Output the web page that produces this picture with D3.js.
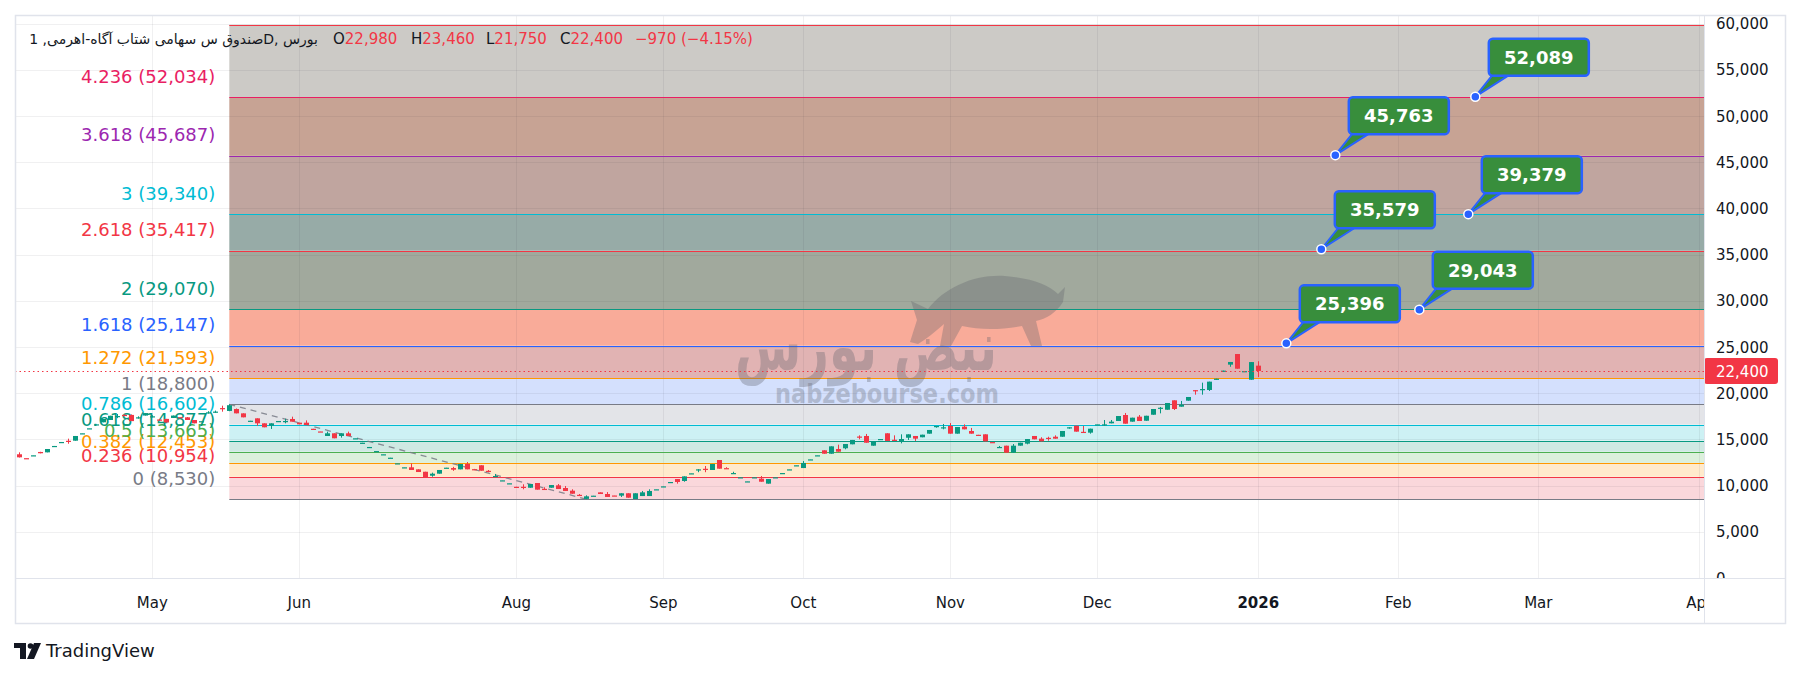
<!DOCTYPE html>
<html><head><meta charset="utf-8">
<script src="https://cdn.jsdelivr.net/npm/d3@7"></script>
<style>html,body{margin:0;padding:0;background:#fff;} svg{display:block;}</style>
</head><body>
<svg id="chart" width="1800" height="677"></svg>
<script>
// ---------------- DATA ----------------
const openP  = [13390,12970,13260,13640,13600,14270,14700,14850,14860,15640,16180,16610,16850,17100,17510,17650,17650,17370,17580,17480,
17150,17220,17320,17410,17390,17100,16950,17910,17980,18390,18080,18290,17820,17000,17280,16740,16480,16970,16970,17210,
16810,16810,16150,15860,15370,15660,15370,15660,15100,14620,14160,13720,13370,13000,12390,11960,11980,11760,11500,11070,
11290,11920,11900,11760,12340,11780,12200,11600,11020,10550,10230,9870,9870,9770,10280,9650,9770,10030,9740,9450,
9000,8560,8890,9270,9090,8930,8910,9170,8550,8870,8870,9580,9900,10370,10710,10500,11310,11740,11820,11690,
12770,11890,11340,10880,10440,10880,10750,10210,10880,11340,11740,12180,11900,12820,13260,13820,13450,13960,14040,14470,
15310,15370,14320,15020,15660,14960,14830,15180,15370,15230,15620,16430,16290,16450,15620,16380,15910,15500,15550,14710,
14160,14320,13560,14320,14540,15370,15080,15170,15290,15290,16290,16480,15820,15730,16610,16610,16740,16990,17640,16920,
17460,17020,17670,18410,18210,19230,18540,19190,20330,20430,20350,21550,22420,23090,24240,22370,21460,22980];
const highP  = [13600,12970,13280,13660,13960,14290,14720,15080,15370,15660,16200,16630,17210,17560,17750,17700,17700,17500,17850,17620,
17200,17220,17580,17410,17420,17100,16970,18050,18120,18650,18800,18350,17820,17020,17280,16740,16740,16990,17240,17460,
16810,17060,16150,15860,15840,15660,15660,15840,15120,14640,14180,13740,13390,13020,12410,11980,12410,11760,11500,11400,
11690,11940,12030,12340,12550,11780,12200,11690,11260,10570,10250,9870,10140,10170,10280,9820,10060,10170,9960,9600,
9090,8950,8910,9270,9300,8930,9170,9170,9170,9420,9600,9600,9920,10390,10710,11000,11330,11780,12120,12340,
12770,11990,11500,10900,10460,10900,11040,10710,10900,11360,11760,12200,12660,12840,13280,13820,14250,14430,14500,14940,
15440,15590,14750,15040,15660,15440,15550,15550,15370,15510,16020,16450,16670,16770,16340,16630,16240,15500,15550,14710,
14290,14320,14500,14640,15040,15370,15230,15290,15440,15910,16310,16480,16450,16160,16630,17100,17100,17530,17860,17350,
17640,17560,18290,18510,18940,19230,19160,19590,20330,21140,21250,21570,22440,23380,24240,22390,23370,23460];
const lowP   = [13040,12950,13260,13490,13600,14270,14700,14530,14860,15640,16180,16610,16850,17100,17300,17500,16980,17250,17580,17380,
17100,16830,17320,17390,17100,16740,16950,17800,17880,18000,18050,17820,17390,17000,16480,16310,16130,16970,16740,16920,
16630,16560,16130,15840,15370,15120,15190,15370,15100,14620,14160,13720,13370,13000,12390,11960,11690,11470,10930,10960,
11290,11920,11600,11760,11760,11760,11610,11440,10930,10550,10230,9850,9600,9770,9560,9560,9770,9630,9420,9120,
8870,8530,8890,9090,8770,8910,8770,8690,8550,8870,8870,9580,9900,10370,10210,10420,11310,11450,11450,11690,
11830,11870,11340,10880,10440,10880,10420,10210,10880,11340,11740,12180,11900,12820,13260,13450,13450,13670,13930,14470,
15010,14640,14320,15020,14830,14830,14570,14940,14830,15230,15620,16270,16090,15620,15620,16090,15620,15480,14790,14690,
14070,13560,13560,14320,14470,15010,14790,14860,15080,15290,16160,15840,15800,15620,16610,16480,16740,16990,16700,16920,
16990,17020,17670,17820,18210,18180,18540,19190,19840,19840,20240,21460,22330,22860,22650,22370,21460,21750];
const closeP = [13060,12950,13280,13500,13960,14290,14720,14820,15370,15660,16200,16630,17210,17560,17530,17520,16980,17390,17850,17500,
17100,16830,17580,17390,17100,16740,16970,17930,18010,18360,18700,17820,17390,17020,16740,16310,16740,16990,16990,16920,
16630,16560,16130,15840,15660,15120,15660,15370,15120,14640,14180,13740,13390,13020,12410,11980,11690,11470,10930,11290,
11690,11940,11720,12340,11760,11760,11610,11580,11040,10570,10250,9850,9850,10170,9560,9630,10060,9630,9420,9120,
8980,8840,8910,9090,8770,8910,9170,8690,9170,9270,9420,9600,9920,10390,10390,11000,11330,11760,11790,12340,
11830,11870,11360,10900,10460,10900,10420,10710,10900,11360,11760,12200,12450,12840,13280,13450,14250,13670,14500,14940,
15290,14640,14750,15040,14830,14940,15040,15550,15080,15510,16020,16450,16310,15620,16340,16090,15620,15480,14790,14690,
14180,13560,14320,14640,15040,15010,14790,15150,15080,15910,16310,15840,15800,16160,16630,16630,16920,17530,16700,17350,
16990,17560,18290,18430,18940,18290,18760,19590,20310,20450,21250,21570,22440,23380,22650,22390,23370,22400];

const monthLabels = ["May","Jun","Aug","Sep","Oct","Nov","Dec","2026","Feb","Mar","Apr"];
const monthBars   = [19,40,71,92,112,133,154,177,197,217,240];
const yTickValues = [0,5000,10000,15000,20000,25000,30000,35000,40000,45000,50000,55000,60000];
const yTickLabels = ["0","5,000","10,000","15,000","20,000","25,000","30,000","35,000","40,000","45,000","50,000","55,000","60,000"];

const fibRatios = ["0","0.236","0.382","0.5","0.618","0.786","1","1.272","1.618","2","2.618","3","3.618","4.236","5"];
const fibPrices = [8530,10954,12453,13665,14877,16602,18800,21593,25147,29070,35417,39340,45687,52034,59880];
const fibLineColors = ["#787b86","#f23645","#ff9800","#4caf50","#089981","#00bcd4","#787b86","#ff9800","#2962ff","#089981","#f23645","#00bcd4","#9c27b0","#e91e63","#f23645"];
const fibFillColors = ["#fad7db","#ffeacc","#dcf0dc","#cfe9e3","#cdf1f4","#e3e4e8","#d4e0fd","#e1b3b3","#f9ab99","#a1a99d","#97aba7","#c0a59f","#c7a394","#cccac6"];
const fibStartBar = 30, fibEndBar = 81;

const calloutValues = [25396,29043,35579,39379,45763,52089];
const calloutBars   = [181,200,186,207,188,208];

const symbolTitle = "صندوق س سهامی شتاب آگاه-اهرمی, 1D, بورس";

// ---------------- LAYOUT ----------------
const plot = {left:15, right:1704, top:15, bottom:578};
const frame = {right:1785, bottom:623};
const svg = d3.select('#chart');
const FONT = "DejaVu Sans, sans-serif";
const UP = "#089981", DOWN = "#f23645";

const x = d3.scaleLinear().domain([-0.614, 240.67]).range([plot.left, plot.right]);
const y = d3.scaleLinear().domain([0, 60931]).range([plot.bottom, plot.top]);
const step = x(1) - x(0);
const fmt = d3.format(",");

svg.append('rect').attr('width',1800).attr('height',677).attr('fill','#ffffff');

const defs = svg.append('defs');
defs.append('clipPath').attr('id','plotClip').append('rect')
  .attr('x',plot.left).attr('y',plot.top).attr('width',plot.right-plot.left).attr('height',plot.bottom-plot.top);
defs.append('clipPath').attr('id','yAxisClip').append('rect')
  .attr('x',plot.right).attr('y',plot.top).attr('width',frame.right-plot.right).attr('height',plot.bottom-plot.top);
defs.append('clipPath').attr('id','xAxisClip').append('rect')
  .attr('x',plot.left).attr('y',plot.bottom).attr('width',plot.right-plot.left).attr('height',frame.bottom-plot.bottom);

const g = svg.append('g').attr('clip-path','url(#plotClip)');

// fib fills
const fx0 = x(fibStartBar);
for (let k=1;k<fibPrices.length;k++){
  g.append('rect').attr('x',fx0).attr('y',y(fibPrices[k]))
   .attr('width',plot.right-fx0).attr('height',y(fibPrices[k-1])-y(fibPrices[k]))
   .attr('fill',fibFillColors[k-1]);
}

// grid
g.selectAll('line.hg').data(yTickValues).enter().append('line')
  .attr('x1',plot.left).attr('x2',plot.right)
  .attr('y1',d=>Math.round(y(d))+0.5).attr('y2',d=>Math.round(y(d))+0.5)
  .attr('stroke','rgba(42,46,57,0.07)').attr('stroke-width',1);
g.selectAll('line.vg').data(monthBars).enter().append('line')
  .attr('y1',plot.top).attr('y2',plot.bottom)
  .attr('x1',d=>Math.round(x(d))+0.5).attr('x2',d=>Math.round(x(d))+0.5)
  .attr('stroke','rgba(42,46,57,0.07)').attr('stroke-width',1);

// fib level lines + labels (top level's label lies above the pane and is not shown)
fibPrices.forEach((p,k)=>{
  const yy = Math.round(y(p))+0.5;
  g.append('line').attr('x1',fx0).attr('x2',plot.right).attr('y1',yy).attr('y2',yy)
    .attr('stroke',fibLineColors[k]).attr('stroke-width',1.2);
  if (y(p) - 28 > plot.top) {
    g.append('text').attr('x',fx0-14).attr('y',y(p)-14.5).attr('text-anchor','end')
      .attr('font-family',FONT).attr('font-size',18).attr('fill',fibLineColors[k])
      .text(`${fibRatios[k]} (${fmt(p)})`);
  }
});

// watermark
const wm = g.append('g');
wm.append('path')
  .attr('d','M910,342 L917,320 L911,301 L928,309 C945,287 975,274 1005,276 C1030,278 1048,284 1058,294 L1065,287 L1063,302 C1056,313 1046,319 1036,321 L1042,346 L1031,346 L1022,326 C1000,330 980,330 962,326 L951,346 L940,346 L944,324 C935,332 926,339 918,344 Z')
  .attr('fill','#5d606b').attr('opacity',0.32);
wm.append('text').attr('x',866).attr('y',370).attr('text-anchor','middle')
  .attr('font-family',FONT).attr('font-weight','bold').attr('font-size',68)
  .attr('fill','#5d606b').attr('opacity',0.32)
  .attr('textLength',262).attr('lengthAdjust','spacingAndGlyphs')
  .text('نبض بورس');
wm.append('text').attr('x',887).attr('y',403).attr('text-anchor','middle')
  .attr('font-family',FONT).attr('font-weight','bold').attr('font-size',27)
  .attr('fill','#5d606b').attr('opacity',0.3)
  .attr('textLength',224).attr('lengthAdjust','spacingAndGlyphs')
  .text('nabzebourse.com');

// trend (dashed) line of the fib tool
g.append('line')
  .attr('x1',x(fibStartBar)).attr('y1',y(highP[fibStartBar]))
  .attr('x2',x(fibEndBar)).attr('y2',y(lowP[fibEndBar]))
  .attr('stroke','#787b86').attr('stroke-width',1.3).attr('stroke-dasharray','6,5').attr('opacity',0.85);

// candles
const bodyW = Math.round(step*0.72);
const candles = g.append('g');
openP.forEach((o,i)=>{
  const c = closeP[i], h = highP[i], l = lowP[i];
  const col = c >= o ? UP : DOWN;
  const cx = Math.round(x(i));
  candles.append('line').attr('x1',cx+0.5).attr('x2',cx+0.5)
    .attr('y1',y(h)).attr('y2',y(l)).attr('stroke',col).attr('stroke-width',1);
  const top = y(Math.max(o,c)), bot = y(Math.min(o,c));
  candles.append('rect').attr('x',cx+0.5-bodyW/2).attr('y',top)
    .attr('width',bodyW).attr('height',Math.max(1.2,bot-top)).attr('fill',col);
});

// last price dotted line
const lastIdx = closeP.length-1;
const lastClose = closeP[lastIdx];
g.append('line').attr('x1',plot.left).attr('x2',plot.right)
  .attr('y1',Math.round(y(lastClose))+0.5).attr('y2',Math.round(y(lastClose))+0.5)
  .attr('stroke',DOWN).attr('stroke-width',1).attr('stroke-dasharray','1.5,3');

// callouts
calloutValues.forEach((v,k)=>{
  const cx = x(calloutBars[k]), cy = y(v);
  const bw = 100, bh = 37, bx = cx + 13.5, by = cy - 21 - bh;
  g.append('path').attr('d',`M${cx},${cy} L${bx+4},${by+bh-1} L${bx+21},${by+bh-1} Z`)
    .attr('fill','#388e3c').attr('stroke','#2962ff').attr('stroke-width',2).attr('stroke-linejoin','round');
  g.append('rect').attr('x',bx).attr('y',by).attr('width',bw).attr('height',bh).attr('rx',4)
    .attr('fill','#388e3c').attr('stroke','#2962ff').attr('stroke-width',2.5);
  g.append('text').attr('x',bx+bw/2).attr('y',by+bh/2+6.5).attr('text-anchor','middle')
    .attr('font-family',FONT).attr('font-weight','bold').attr('font-size',18).attr('fill','#ffffff')
    .text(fmt(v));
  g.append('circle').attr('cx',cx).attr('cy',cy).attr('r',4.5)
    .attr('fill','#2962ff').attr('stroke','#ffffff').attr('stroke-width',1.5);
});

// y axis
const ya = svg.append('g').attr('clip-path','url(#yAxisClip)');
yTickValues.forEach((v,k)=>{
  ya.append('text').attr('x',1716).attr('y',y(v)+5.5)
    .attr('font-family',FONT).attr('font-size',15).attr('fill','#131722').text(yTickLabels[k]);
});
ya.append('rect').attr('x',plot.right).attr('y',y(lastClose)-13).attr('width',74).attr('height',26).attr('rx',3)
  .attr('fill',DOWN);
ya.append('text').attr('x',1716).attr('y',y(lastClose)+5.5)
  .attr('font-family',FONT).attr('font-size',15).attr('fill','#ffffff').text(fmt(lastClose));

// x axis
const xa = svg.append('g').attr('clip-path','url(#xAxisClip)');
monthBars.forEach((b,k)=>{
  xa.append('text').attr('x',x(b)).attr('y',608).attr('text-anchor','middle')
    .attr('font-family',FONT).attr('font-size',15)
    .attr('font-weight', monthLabels[k]==='2026' ? 'bold' : 'normal')
    .attr('fill','#131722').text(monthLabels[k]);
});

// frame
svg.append('rect').attr('x',plot.left+0.5).attr('y',plot.top+0.5)
  .attr('width',frame.right-plot.left).attr('height',frame.bottom-plot.top)
  .attr('fill','none').attr('stroke','#e0e3eb').attr('stroke-width',1.5);
svg.append('line').attr('x1',plot.left).attr('x2',frame.right).attr('y1',plot.bottom+0.5).attr('y2',plot.bottom+0.5)
  .attr('stroke','#e0e3eb').attr('stroke-width',1);
svg.append('line').attr('x1',plot.right+0.5).attr('x2',plot.right+0.5).attr('y1',plot.top).attr('y2',frame.bottom)
  .attr('stroke','#e0e3eb').attr('stroke-width',1);

// legend
const leg = svg.append('g').attr('font-family',FONT).attr('font-size',15);
leg.append('text').attr('x',318).attr('y',44).attr('text-anchor','end').attr('font-size',14)
  .attr('fill','#131722').text(symbolTitle);
const lastO = openP[lastIdx], lastH = highP[lastIdx], lastL = lowP[lastIdx];
const chg = lastClose - closeP[lastIdx-1];
const pct = chg/closeP[lastIdx-1]*100;
const legItems = [["O",lastO,333],["H",lastH,411],["L",lastL,486],["C",lastClose,560]];
const vcol = chg < 0 ? DOWN : UP;
legItems.forEach(([k,v,lx])=>{
  const t = leg.append('text').attr('x',lx).attr('y',44);
  t.append('tspan').attr('fill','#131722').text(k);
  t.append('tspan').attr('fill',vcol).text(fmt(v));
});
leg.append('text').attr('x',635).attr('y',44).attr('fill',vcol)
  .text(`${chg<0?'\u2212':'+'}${fmt(Math.abs(chg))} (${chg<0?'\u2212':'+'}${Math.abs(pct).toFixed(2)}%)`);

// TradingView logo
const logo = svg.append('g').attr('fill','#131722');
logo.append('path').attr('d','M14,643 L26,643 L26,659 L20,659 L20,648 L14,648 Z');
logo.append('circle').attr('cx',30.5).attr('cy',646).attr('r',2.8);
logo.append('path').attr('d','M34,643 L41,643 L34,659 L27,659 Z');
logo.append('text').attr('x',46).attr('y',657).attr('font-family',FONT).attr('font-size',18).text('TradingView');
</script>
</body></html>
